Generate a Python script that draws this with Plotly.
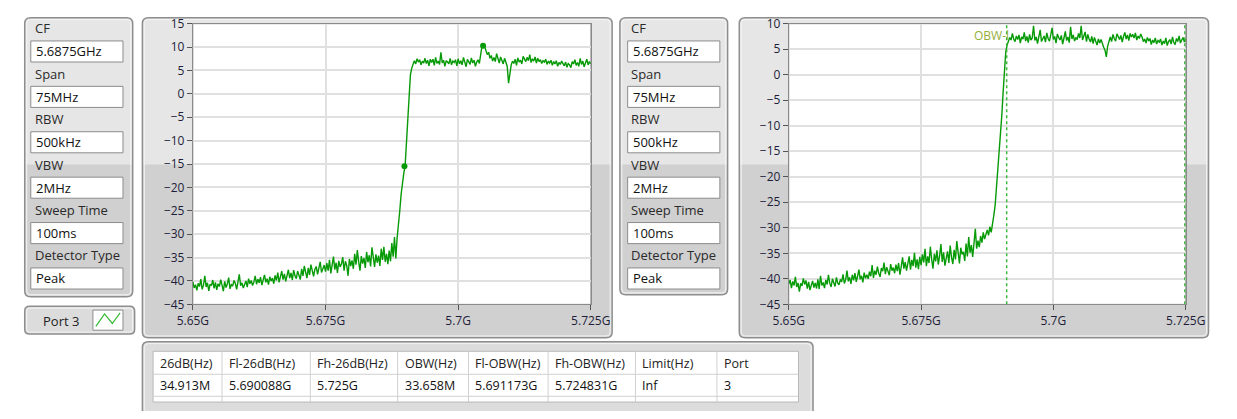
import numpy as np
import plotly.graph_objects as go

W, H = 1237, 419
OFF = 8                     # browser body margin
FW, FH = W - 2 * OFF, H - 2 * OFF

# ---------------- data ----------------
F_START, F_STOP = 5.65, 5.725   # GHz sweep
X_TICKS = [5.65, 5.675, 5.7, 5.725]
X_TICK_TEXT = ["5.65G", "5.675G", "5.7G", "5.725G"]
Y_TICKS_LEFT = [15, 10, 5, 0, -5, -10, -15, -20, -25, -30, -35, -40, -45]
Y_TICKS_RIGHT = [10, 5, 0, -5, -10, -15, -20, -25, -30, -35, -40, -45]

LEFT_DB = [
    -40.2, -41.5, -40.8, -42.0, -40.5, -41.2, -39.6, -41.8, -40.9, -38.9, -41.3, -40.4, -42.1, -40.7, -41.0, -39.8, -41.6, -40.3, -41.9, -40.6,
    -41.2, -39.7, -40.9, -42.2, -40.1, -41.4, -40.6, -39.3, -41.7, -40.8, -41.1, -39.9, -40.5, -41.8, -40.2, -38.6, -41.0, -40.4, -41.5, -40.7,
    -40.0, -41.3, -39.5, -40.6, -39.9, -41.0, -40.2, -38.9, -40.7, -39.6, -40.4, -39.2, -40.9, -39.8, -38.7, -40.3, -39.5, -40.8, -39.1, -40.0,
    -39.4, -40.6, -38.8, -39.9, -38.2, -40.3, -39.1, -37.9, -39.7, -38.5, -40.1, -38.9, -37.6, -39.4, -38.3, -39.8, -37.7, -38.9, -39.5, -37.9,
    -38.6, -39.7, -37.4, -38.9, -36.8, -38.3, -39.4, -37.2, -38.7, -36.5, -38.1, -39.0, -37.5, -36.9, -38.6, -37.1, -35.9, -38.2, -37.4, -36.6,
    -38.0, -36.2, -37.8, -35.5, -38.4, -36.9, -34.8, -37.6, -36.1, -38.3, -35.7, -37.0, -36.4, -34.9, -37.8, -35.8, -36.7, -38.9, -35.3, -36.8,
    -35.6, -37.4, -34.2, -36.5, -33.4, -35.9, -37.8, -34.7, -36.3, -35.1, -37.2, -33.8, -36.0, -34.5, -36.9, -32.8, -35.4, -37.0, -34.3, -36.1,
    -34.6, -36.8, -33.1, -35.5, -32.7, -35.9, -34.2, -36.4, -33.5, -35.8, -31.9, -34.8, -30.6, -35.2, -30.8, -28.5, -25.0, -21.5, -19.0, -17.0,
    -15.5, -11.0, -5.0, 0.5, 4.0, 5.5, 6.3, 7.1, 6.4, 7.5, 6.8, 7.3, 6.2, 7.0, 6.6, 7.6, 6.5, 7.2, 6.0, 7.4,
    6.7, 7.4, 6.1, 7.8, 6.5, 7.0, 6.3, 8.9, 6.6, 7.2, 5.9, 7.1, 6.8, 6.4, 7.6, 6.2, 7.0, 6.7, 7.3, 6.0,
    7.5, 6.4, 7.1, 6.2, 7.8, 6.5, 5.8, 7.4, 6.9, 6.3, 7.7, 6.6, 7.2, 5.9, 6.8, 7.3, 6.5, 8.5, 10.3, 10.6,
    10.1, 9.2, 8.4, 8.9, 7.6, 8.2, 7.0, 7.8, 6.9, 8.6, 7.3, 6.6, 7.9, 7.1, 6.4, 7.6, 6.8, 5.9, 2.3, 4.5,
    6.2, 7.0, 6.5, 7.4, 6.1, 7.7, 6.8, 7.2, 6.4, 8.0, 7.3, 6.9, 7.8, 7.1, 8.4, 6.7, 7.5, 7.0, 7.9, 6.6,
    7.6, 6.9, 7.3, 6.5, 7.1, 6.8, 7.4, 6.3, 7.0, 6.6, 7.2, 6.1, 6.9, 6.4, 7.1, 5.9, 6.7, 6.3, 7.0, 6.5,
    6.0, 6.8, 5.7, 6.5, 6.2, 5.6, 6.9, 6.4, 7.3, 6.1, 6.7, 5.9, 7.6, 6.3, 7.0, 5.8, 6.6, 7.4, 6.2, 6.9,
    6.4,
]

RIGHT_DB = [
    -41.0, -40.2, -41.8, -40.5, -41.3, -39.6, -41.6, -40.8, -42.5, -40.9, -41.4, -39.9, -41.1, -40.3, -41.9, -40.6, -42.2, -41.0, -40.4, -41.7,
    -40.8, -41.9, -40.1, -42.0, -39.4, -41.3, -40.7, -41.8, -40.2, -41.1, -39.2, -40.9, -41.6, -40.0, -40.7, -41.5, -39.7, -40.8, -41.2, -40.1,
    -40.6, -39.1, -40.9, -40.2, -38.4, -40.5, -39.7, -41.0, -39.2, -40.3, -38.9, -40.6, -39.5, -38.2, -40.1, -39.4, -40.7, -38.8, -39.9, -39.2,
    -40.0, -38.6, -39.5, -37.3, -39.8, -38.4, -39.2, -37.6, -38.9, -39.6, -37.9, -38.5, -36.8, -39.1, -37.7, -38.6, -39.3, -37.1, -38.4, -37.8,
    -38.9, -37.2, -38.5, -36.9, -39.2, -37.6, -35.8, -38.0, -36.7, -38.4, -37.1, -35.6, -38.2, -36.3, -37.5, -34.9, -37.8, -36.2, -38.1, -35.7,
    -37.3, -35.2, -36.8, -34.1, -37.5, -35.6, -36.9, -33.7, -36.2, -38.0, -35.1, -36.6, -34.4, -37.2, -35.5, -33.2, -36.7, -34.8, -37.4, -35.9,
    -34.6, -36.9, -33.5, -35.8, -37.1, -34.3, -36.2, -32.6, -35.4, -37.0, -33.9, -35.2, -34.7, -36.5, -33.1, -35.6, -31.8, -34.9, -33.4, -35.7,
    -33.0, -30.2, -34.1, -32.5, -33.8, -31.6, -32.9, -30.9, -32.2, -31.0, -30.4, -31.5, -29.8, -30.9, -29.5, -27.5, -25.5, -22.0, -20.0, -16.5,
    -12.5, -8.0, -3.5, 1.0, 4.5, 5.8, 6.4, 7.3, 6.8, 8.1, 7.0, 6.5, 7.6, 6.9, 7.8, 6.2, 7.4, 7.0, 8.3, 6.6,
    7.5, 6.3, 7.9, 6.8, 7.2, 9.6, 6.7, 7.4, 6.1, 7.7, 8.8, 6.5, 7.0, 7.6, 6.4, 8.2, 7.1, 6.6, 7.8, 9.2,
    6.9, 7.5, 6.2, 8.0, 7.3, 6.8, 7.7, 6.0, 7.2, 8.5, 6.7, 7.4, 6.3, 9.4, 7.0, 7.8, 6.6, 7.3, 6.9, 8.1,
    7.2, 9.6, 6.8, 7.7, 8.4, 6.5, 7.9, 7.0, 6.4, 7.5, 6.1, 7.3, 6.6, 5.8, 7.0, 6.2, 6.9, 6.0, 5.4, 4.8,
    3.5, 5.6, 6.8, 7.4, 6.5, 7.9, 7.1, 6.6, 8.0, 7.3, 6.9, 7.7, 6.4, 7.5, 8.3, 7.0, 7.8, 6.7, 8.1, 7.4,
    7.9, 7.2, 8.2, 6.8, 7.6, 7.1, 8.0, 7.4, 6.5, 7.0, 6.2, 7.3, 6.6, 7.1, 5.9, 6.8, 6.3, 7.2, 6.0, 6.7,
    6.4, 7.0, 5.8, 6.6, 6.1, 7.2, 5.7, 6.5, 6.9, 6.0, 7.4, 6.3, 5.9, 7.1, 6.5, 7.6, 6.2, 6.8, 7.3, 6.4,
    7.0,
]

MARKER_F = [5.68988, 5.7047]
MARKER_DB = [-15.5, 10.3]

OBW_LOW = 5.691173
OBW_HIGH = 5.724831
OBW_LABEL = "OBW-l"

PARAM_LABELS = ["CF", "Span", "RBW", "VBW", "Sweep Time", "Detector Type"]
PARAM_VALUES = ["5.6875GHz", "75MHz", "500kHz", "2MHz", "100ms", "Peak"]

PORT_LABEL = "Port 3"

TABLE_HEADERS = ["26dB(Hz)", "Fl-26dB(Hz)", "Fh-26dB(Hz)", "OBW(Hz)", "Fl-OBW(Hz)", "Fh-OBW(Hz)", "Limit(Hz)", "Port"]
TABLE_VALUES = ["34.913M", "5.690088G", "5.725G", "33.658M", "5.691173G", "5.724831G", "Inf", "3"]

# ---------------- styling helpers ----------------
FONT = "Open Sans"
GREEN = "#079a07"
UPPER = "#e6e6e6"
LOWER = "#d0d0d0"
BAND_Y = 162
FRAME = "#8e8e8e"


def X(p):
    return (p - OFF) / FW


def Y(p):
    return 1 - (p - OFF) / FH


def rpath(x0, y0, x1, y1, r, rt=True, rb=True):
    rt_ = r if rt else 0
    rb_ = r if rb else 0
    pts = [f"M{X(x0 + rt_)},{Y(y0)}", f"L{X(x1 - rt_)},{Y(y0)}"]
    if rt_:
        pts.append(f"Q{X(x1)},{Y(y0)} {X(x1)},{Y(y0 + rt_)}")
    pts.append(f"L{X(x1)},{Y(y1 - rb_)}")
    if rb_:
        pts.append(f"Q{X(x1)},{Y(y1)} {X(x1 - rb_)},{Y(y1)}")
    pts.append(f"L{X(x0 + rb_)},{Y(y1)}")
    if rb_:
        pts.append(f"Q{X(x0)},{Y(y1)} {X(x0)},{Y(y1 - rb_)}")
    pts.append(f"L{X(x0)},{Y(y0 + rt_)}")
    if rt_:
        pts.append(f"Q{X(x0)},{Y(y0)} {X(x0 + rt_)},{Y(y0)}")
    pts.append("Z")
    return " ".join(pts)


shapes = []
annotations = []


def panel(x0, y0, x1, y1, r=6, band=True, base=None):
    shapes.append(dict(type="path", path=rpath(x0, y0, x1, y1, r), xref="paper", yref="paper",
                       fillcolor=base or UPPER, line=dict(width=0), layer="below"))
    if band and y1 > BAND_Y:
        shapes.append(dict(type="path", path=rpath(x0 + 1, BAND_Y, x1 - 1, y1 - 1, r, rt=False),
                           xref="paper", yref="paper", fillcolor=LOWER, line=dict(width=0), layer="below"))
    shapes.append(dict(type="path", path=rpath(x0 + 2, y0 + 2, x1 - 2, y1 - 2, r - 2), xref="paper", yref="paper",
                       fillcolor="rgba(0,0,0,0)", line=dict(color="#f4f4f4", width=1), layer="below"))
    shapes.append(dict(type="path", path=rpath(x0, y0, x1, y1, r), xref="paper", yref="paper",
                       fillcolor="rgba(0,0,0,0)", line=dict(color=FRAME, width=1.5), layer="below"))


def rect(x0, y0, x1, y1, fill="white", line="#8a8a8a", lw=1):
    shapes.append(dict(type="rect", xref="paper", yref="paper", x0=X(x0), x1=X(x1), y0=Y(y1), y1=Y(y0),
                       fillcolor=fill, line=dict(color=line, width=lw), layer="below"))


def text(x, y, s, size=13, color="#222", xanchor="left"):
    annotations.append(dict(x=X(x), y=Y(y), xref="paper", yref="paper", text=s, showarrow=False,
                            xanchor=xanchor, yanchor="middle", font=dict(family=FONT, size=size, color=color)))


def control_panel(x0, x1, bottom, bx0, bx1, lx):
    panel(x0, 8.75, x1, bottom)
    for i, (lab, val) in enumerate(zip(PARAM_LABELS, PARAM_VALUES)):
        ly = 20 + 47.4 * i
        text(lx, ly, lab, size=13, color="#2a2a2a")
        top = ly + 13
        rect(bx0, top, bx1, top + 22, fill="white", line="#8c8c8c")
        text(bx0 + 3, top + 11, val, size=13, color="#111")


# chart panels
panel(130, 8.75, 614, 343)
panel(745, 8.75, 1228.5, 343)

# plot areas (white)
L_X0, L_X1 = 182, 592
R_X0, R_X1 = 796, 1205
P_Y0, P_Y1 = 15, 308
rect(L_X0, P_Y0, L_X1, P_Y1, fill="white", line="#a0a0a0")
rect(R_X0, P_Y0, R_X1, P_Y1, fill="white", line="#a0a0a0")

# control panels
control_panel(8.75, 120, 300, 15, 110, 17)
control_panel(622, 733, 298, 630, 725, 631)

# port legend box
panel(8.75, 310, 122, 339, r=5, band=False, base="#dcdcdc")
text(46, 325, PORT_LABEL, size=13, color="#222", xanchor="center")
rect(79, 314, 110, 335, fill="white", line="#8c8c8c")
zig = [(82, 331), (91, 318), (99, 328), (107, 317)]
shapes.append(dict(type="path", xref="paper", yref="paper",
                   path="M" + " L".join(f"{X(a)},{Y(b)}" for a, b in zig),
                   line=dict(color="#33b833", width=1.2), fillcolor="rgba(0,0,0,0)", layer="below"))

# table panel
panel(130, 347, 821, 428, r=6, band=False, base="#dcdcdc")
COL_EDGES = [141, 212, 303, 393, 466, 548, 638, 722, 806]
T_Y = [357, 381, 404, 410]
rect(COL_EDGES[0], T_Y[0], COL_EDGES[-1], T_Y[3], fill="white", line="#b8b8b8")
for yy in T_Y[1:3]:
    shapes.append(dict(type="line", xref="paper", yref="paper", x0=X(COL_EDGES[0]), x1=X(COL_EDGES[-1]),
                       y0=Y(yy), y1=Y(yy), line=dict(color="#d0d0d0", width=1), layer="below"))
for xx in COL_EDGES[1:-1]:
    shapes.append(dict(type="line", xref="paper", yref="paper", x0=X(xx), x1=X(xx),
                       y0=Y(T_Y[0]), y1=Y(T_Y[3]), line=dict(color="#d0d0d0", width=1), layer="below"))
for i, (hd, vl) in enumerate(zip(TABLE_HEADERS, TABLE_VALUES)):
    text(COL_EDGES[i] + 5, 369.5, hd, size=12.5, color="#222")
    text(COL_EDGES[i] + 5, 393, vl, size=12.5, color="#111")

# ---------------- traces ----------------
freq_l = np.linspace(F_START, F_STOP, len(LEFT_DB))
freq_r = np.linspace(F_START, F_STOP, len(RIGHT_DB))

fig = go.Figure()
fig.add_trace(go.Scatter(x=freq_l, y=LEFT_DB, mode="lines", line=dict(color=GREEN, width=1.4),
                         xaxis="x", yaxis="y", hoverinfo="skip", showlegend=False))
fig.add_trace(go.Scatter(x=MARKER_F, y=MARKER_DB, mode="markers", marker=dict(color=GREEN, size=6),
                         xaxis="x", yaxis="y", hoverinfo="skip", showlegend=False))
fig.add_trace(go.Scatter(x=freq_r, y=RIGHT_DB, mode="lines", line=dict(color=GREEN, width=1.4),
                         xaxis="x2", yaxis="y2", hoverinfo="skip", showlegend=False))

# OBW cursors
for f in (OBW_LOW, OBW_HIGH):
    shapes.append(dict(type="line", xref="x2", yref="y2", x0=f, x1=f, y0=-45, y1=10,
                       line=dict(color="#3cb83c", width=1.5, dash="dot"), layer="above"))
annotations.append(dict(x=OBW_LOW, y=10, xref="x2", yref="y2", text=OBW_LABEL, showarrow=False,
                        xanchor="right", yanchor="top", xshift=4, yshift=-1,
                        font=dict(family=FONT, size=12, color="#95b03a")))

axis_common = dict(showgrid=True, gridcolor="#e0e0e0", gridwidth=1.5, zeroline=False,
                   showline=True, linecolor="#8a8a8a", linewidth=1, mirror=True,
                   ticks="outside", ticklen=5, tickcolor="#555", tickwidth=1,
                   ticklabeloverflow="allow",
                   tickfont=dict(family=FONT, size=12, color="#1e1e3a"), fixedrange=True)

fig.update_layout(
    width=FW, height=FH, autosize=False,
    margin=dict(l=0, r=0, t=0, b=0),
    paper_bgcolor="white", plot_bgcolor="rgba(0,0,0,0)",
    showlegend=False,
    xaxis=dict(domain=[X(L_X0), X(L_X1)], range=[F_START, F_STOP], anchor="y",
               tickvals=X_TICKS, ticktext=X_TICK_TEXT, **axis_common),
    yaxis=dict(domain=[Y(P_Y1), Y(P_Y0)], range=[-45, 15], anchor="x",
               tickvals=Y_TICKS_LEFT, **axis_common),
    xaxis2=dict(domain=[X(R_X0), X(R_X1)], range=[F_START, F_STOP], anchor="y2",
                tickvals=X_TICKS, ticktext=X_TICK_TEXT, **axis_common),
    yaxis2=dict(domain=[Y(P_Y1), Y(P_Y0)], range=[-45, 10], anchor="x2",
                tickvals=Y_TICKS_RIGHT, **axis_common),
    shapes=shapes,
    annotations=annotations,
)

fig.write_html("out.html", config={"displayModeBar": False})
